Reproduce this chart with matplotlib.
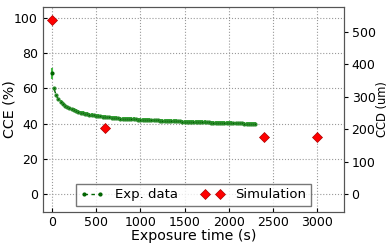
import matplotlib
matplotlib.use("Agg")
import matplotlib.pyplot as plt
from matplotlib.lines import Line2D

# ---- data ----
exp_t0 = [0]
exp_cce0 = [68.5]
exp_err0 = 3.0

exp_t = [25, 50, 75, 100, 125, 150, 175, 200, 225, 250, 275, 300, 325, 350, 375,
         400, 425, 450, 475, 500, 525, 550, 575, 600, 625, 650, 675, 700, 725, 750,
         775, 800, 825, 850, 875, 900, 925, 950, 975, 1000, 1025, 1050, 1075, 1100,
         1125, 1150, 1175, 1200, 1225, 1250, 1275, 1300, 1325, 1350, 1375, 1400,
         1425, 1450, 1475, 1500, 1525, 1550, 1575, 1600, 1625, 1650, 1675, 1700,
         1725, 1750, 1775, 1800, 1825, 1850, 1875, 1900, 1925, 1950, 1975, 2000,
         2025, 2050, 2075, 2100, 2125, 2150, 2175, 2200, 2225, 2250, 2275, 2300]
exp_cce = [60.0, 56.0, 53.8, 52.3, 51.1, 50.1, 49.3, 48.7, 48.1, 47.6, 47.1, 46.7,
           46.3, 46.0, 45.7, 45.4, 45.1, 44.9, 44.7, 44.5, 44.3, 44.1, 43.9, 43.8,
           43.6, 43.5, 43.4, 43.2, 43.1, 43.0, 42.9, 42.8, 42.8, 42.7, 42.6, 42.5,
           42.5, 42.4, 42.3, 42.3, 42.2, 42.1, 42.1, 42.0, 41.9, 41.9, 41.8, 41.8,
           41.7, 41.7, 41.6, 41.6, 41.5, 41.5, 41.4, 41.4, 41.3, 41.3, 41.2, 41.2,
           41.1, 41.1, 41.0, 41.0, 41.0, 40.9, 40.9, 40.8, 40.8, 40.7, 40.7, 40.6,
           40.6, 40.6, 40.5, 40.5, 40.4, 40.4, 40.4, 40.3, 40.3, 40.2, 40.2, 40.1,
           40.1, 40.1, 40.0, 40.0, 39.9, 39.9, 39.8, 39.8]
exp_err = 1.0

sim_t = [0, 600, 2400, 3000]
sim_cce = [99.0, 37.5, 32.5, 32.5]

x_ticks = [0, 500, 1000, 1500, 2000, 2500, 3000]
left_ticks = [0, 20, 40, 60, 80, 100]
right_ticks = [0, 100, 200, 300, 400, 500]

# ---- plot ----
fig = plt.figure(figsize=(3.9, 2.44), dpi=100)
ax = fig.add_axes([0.110, 0.131, 0.772, 0.840])

ecol = '#44bb44'
mcol = '#006400'
ax.errorbar(exp_t0, exp_cce0, yerr=exp_err0, fmt='.', color=mcol, ecolor=ecol,
            markersize=4, elinewidth=1.5, capsize=0, zorder=3)
ax.errorbar(exp_t, exp_cce, yerr=exp_err, fmt='--.', color=mcol, ecolor=ecol,
            markersize=4, markeredgecolor='#2a8a2a', elinewidth=1.5, capsize=0,
            lw=1, zorder=3)
h_sim, = ax.plot(sim_t, sim_cce, 'D', color='red', markeredgecolor='#aa0000',
                 markeredgewidth=0.5, markersize=5.5, label='Simulation', zorder=4)
h_exp = Line2D([], [], linestyle=(0, (2.5, 2.5)), marker='.', color=mcol,
               markersize=4, lw=1)

ax.set_xlim(-100, 3300)
ax.set_ylim(-10.2, 106.2)
ax.set_xticks(x_ticks)
ax.set_yticks(left_ticks)
ax.grid(True, linestyle=':', color='#999999', linewidth=0.8)
ax.set_axisbelow(True)
ax.tick_params(labelsize=9, length=3, direction='in')
ax.tick_params(axis='x', pad=2.5)
ax.set_xlabel('Exposure time (s)', fontsize=10.2, labelpad=0)
ax.set_ylabel('CCE (%)', fontsize=10.3)
ax.yaxis.set_label_coords(-0.088, 0.5)

ax2 = ax.twinx()
ax2.set_ylim(-55.4, 577.0)
ax2.set_yticks(right_ticks)
ax2.tick_params(labelsize=9, length=3, pad=2.5)
ax2.set_ylabel('CCD (um)', fontsize=8.3, labelpad=0.5)

for a in (ax, ax2):
    for s in a.spines.values():
        s.set_color('#555555')

leg = ax.legend([h_exp, h_sim], ['Exp. data', 'Simulation'], loc='lower center',
                ncol=2, numpoints=2, fontsize=9.5, fancybox=False, frameon=True,
                borderaxespad=0.45, handlelength=1.8, columnspacing=1.7,
                handletextpad=0.85, borderpad=0.35)
leg.get_frame().set_edgecolor('#555555')
leg.get_frame().set_linewidth(1.0)

fig.savefig('out.png', dpi=100)
